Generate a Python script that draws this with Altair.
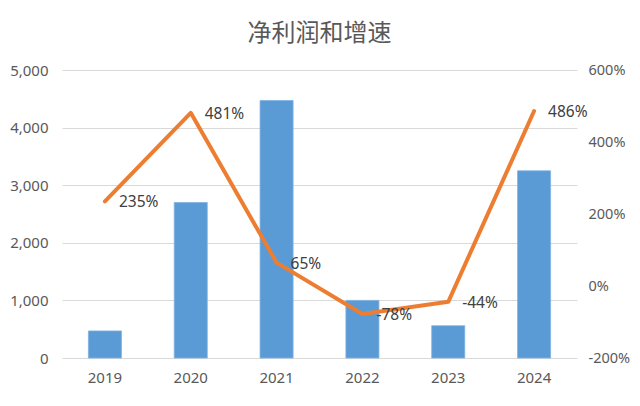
import altair as alt
import pandas as pd

years = ["2019", "2020", "2021", "2022", "2023", "2024"]
profit = [470, 2700, 4470, 1000, 560, 3250]
growth = [235, 481, 65, -78, -44, 486]
growth_labels = ["235%", "481%", "65%", "-78%", "-44%", "486%"]

df = pd.DataFrame({"year": years, "profit": profit, "growth": growth, "label": growth_labels})

FONT = "Noto Sans"
GREY = "#595959"

x = alt.X("year:N", sort=years, title=None,
          scale=alt.Scale(paddingInner=0.615, paddingOuter=0.3075),
          axis=alt.Axis(labelAngle=0, ticks=False, domain=False, grid=False, labelPadding=12,
                        labelFontSize=15, labelColor=GREY, labelFont=FONT))

bars = alt.Chart(df).mark_bar(color="#5B9BD5", stroke="#7EB3E3", strokeWidth=0.8).encode(
    x=x,
    y=alt.Y("profit:Q", title=None,
            scale=alt.Scale(domain=[0, 5000], nice=False),
            axis=alt.Axis(values=[0, 1000, 2000, 3000, 4000, 5000], format=",.0f",
                          grid=True, gridColor="#D9D9D9", gridWidth=1,
                          domain=False, ticks=False, labelPadding=14,
                          labelFontSize=15, labelColor=GREY, labelFont=FONT)),
)

yr = alt.Y("growth:Q", title=None,
           scale=alt.Scale(domain=[-200, 600], nice=False),
           axis=alt.Axis(orient="right", values=[-200, 0, 200, 400, 600],
                         labelExpr="datum.value + '%'", grid=False,
                         domain=False, ticks=False, labelPadding=11,
                         labelFontSize=14.5, labelColor=GREY, labelFont=FONT))

line = alt.Chart(df).mark_line(color="#ED7D31", strokeWidth=4, strokeCap="round",
                               strokeJoin="round").encode(x=x, y=yr)

text = alt.Chart(df).mark_text(align="left", baseline="middle", dx=14, dy=1,
                               fontSize=15.5, color="#404040", font=FONT).encode(
    x=x, y=yr, text="label:N")

right = alt.layer(line, text)

chart = alt.layer(bars, right).resolve_scale(y="independent").properties(
    width=515, height=288,
    title=alt.TitleParams("净利润和增速", fontSize=24, font="Noto Sans CJK SC",
                          fontWeight="normal", color=GREY, anchor="middle", offset=16),
    autosize=alt.AutoSizeParams(type="none"),
    padding={"left": 54, "top": 62, "right": 55, "bottom": 40},
).configure(background="white", view=alt.ViewConfig(stroke=None))

chart.save("out.html", embed_options={"renderer": "svg", "actions": False})
